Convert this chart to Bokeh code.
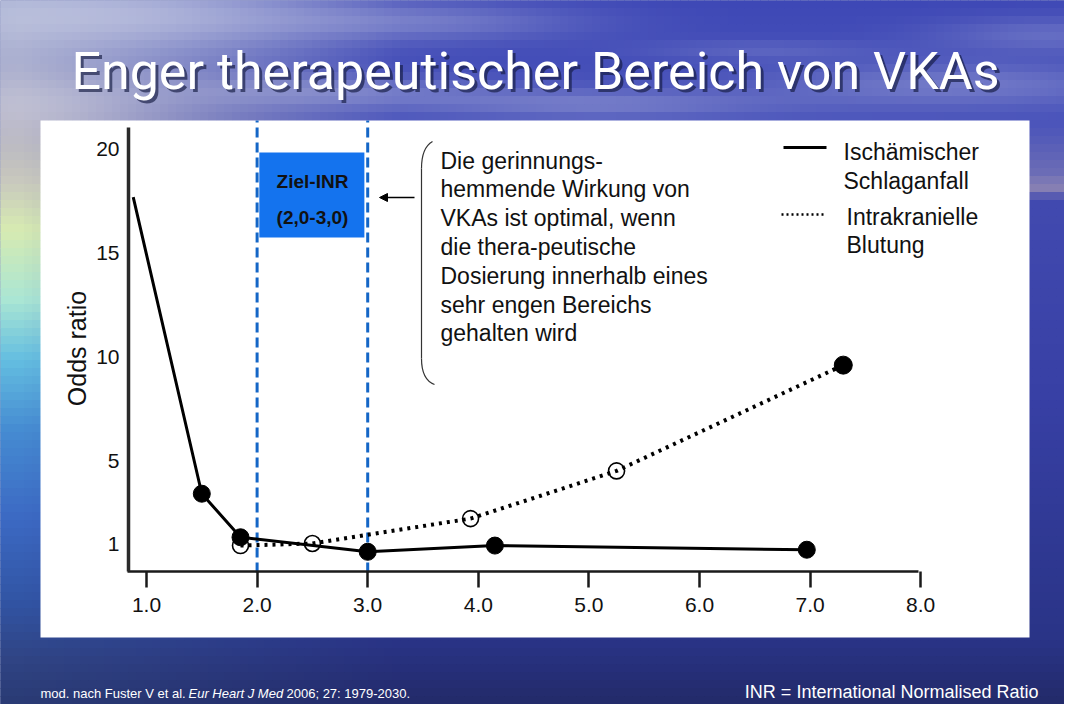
import numpy as np
from bokeh.plotting import figure
from bokeh.models import (Range1d, LinearAxis, FixedTicker, Label, Arrow, NormalHead)
from bokeh.embed import file_html
from bokeh.resources import INLINE

# ---------------- data ----------------
inr_ticks = [1.0, 2.0, 3.0, 4.0, 5.0, 6.0, 7.0, 8.0]
inr_tick_labels = ["1.0", "2.0", "3.0", "4.0", "5.0", "6.0", "7.0", "8.0"]
or_ticks = [1, 5, 10, 15, 20]
or_tick_labels = ["1", "5", "10", "15", "20"]
target_inr = [2.0, 3.0]

stroke_inr = [0.88, 1.5, 1.85, 3.0, 4.15, 6.97]
stroke_or = [17.7, 3.4, 1.3, 0.6, 0.9, 0.7]
stroke_marked = [False, True, True, True, True, True]

bleed_inr = [1.85, 2.5, 3.93, 5.25, 7.3]
bleed_or = [0.9, 1.0, 2.2, 4.5, 9.6]
bleed_filled = [False, False, False, False, True]

title_text = "Enger therapeutischer Bereich von VKAs"
box_lines = ["Ziel-INR", "(2,0-3,0)"]
note_lines = ["Die gerinnungs-", "hemmende Wirkung von", "VKAs ist optimal, wenn",
              "die thera-peutische", "Dosierung innerhalb eines", "sehr engen Bereichs",
              "gehalten wird"]
legend_stroke = ["Ischämischer", "Schlaganfall"]
legend_bleed = ["Intrakranielle", "Blutung"]

# ---------------- layout helpers (reference pixel -> data) ----------------
W, H = 1064, 704
def X(rx):
    return 1 + (rx - 146) / 110.6
def Y(ry):
    return 1 - (ry - 543) / 20.74

p = figure(width=W, height=H, x_range=Range1d(X(0), X(W)), y_range=Range1d(Y(H), Y(0)),
           output_backend="svg", toolbar_location=None, x_axis_location=None, y_axis_location=None,
           min_border=0, outline_line_color=None)
p.grid.visible = False
p.background_fill_color = "#2c3a8c"
p.border_fill_color = "#2c3a8c"

# ---------------- background (slide texture approximation) ----------------
step = 8
rxs = np.arange(0, 1080, step) + step / 2
rys = np.arange(0, 720, step) + step / 2
GX, GY = np.meshgrid(rxs, rys)
inside = (GX - step / 2 >= 40) & (GX + step / 2 <= 1029) & (GY - step / 2 >= 120) & (GY + step / 2 <= 637)
gx = GX[~inside]
gy = GY[~inside]

lp_y = [0, 60, 120, 180, 230, 300, 360, 430, 520, 600, 660, 720]
lp_c = np.array([(150, 160, 205), (165, 170, 205), (178, 176, 196), (200, 200, 190), (215, 235, 178),
                 (170, 230, 212), (100, 190, 225), (70, 140, 210), (60, 105, 195), (50, 85, 165),
                 (48, 68, 132), (40, 55, 110)], float)
rp_y = [0, 120, 175, 187, 200, 400, 640, 720]
rp_c = np.array([(62, 72, 182), (72, 82, 186), (110, 110, 182), (140, 132, 180), (66, 74, 176),
                 (56, 64, 165), (42, 52, 135), (33, 40, 98)], float)
left = np.stack([np.interp(gy, lp_y, lp_c[:, k]) for k in range(3)], axis=1)
right = np.stack([np.interp(gy, rp_y, rp_c[:, k]) for k in range(3)], axis=1)
t = np.clip((gx - 20) / 380, 0, 1)[:, None]
col = left * (1 - t) + right * t
blobs = [(120, 15, 230, 35, 0.5), (40, 105, 120, 30, 0.3), (330, 92, 170, 16, 0.3),
         (600, 104, 170, 14, 0.28), (430, 22, 160, 18, 0.25), (950, 85, 190, 22, 0.28),
         (1050, 35, 120, 18, 0.22), (760, 50, 120, 10, 0.15)]
w = np.zeros_like(gx, dtype=float)
for cx, cy, sx, sy, a in blobs:
    w = w + a * np.exp(-(((gx - cx) / sx) ** 2 + ((gy - cy) / sy) ** 2))
w = np.clip(w, 0, 0.8)[:, None]
col = col * (1 - w) + np.array([228, 230, 238]) * w
cols = ["#%02x%02x%02x" % tuple(int(v) for v in c) for c in col]
p.quad(left=[X(v - step / 2) for v in gx], right=[X(v + step / 2) for v in gx],
       top=[Y(v - step / 2) for v in gy], bottom=[Y(v + step / 2) for v in gy],
       fill_color=cols, line_color=cols, line_width=1)

# white panel
p.quad(left=[X(40)], right=[X(1029)], top=[Y(120)], bottom=[Y(637)], fill_color="white", line_color=None)

# ---------------- target range ----------------
p.quad(left=[target_inr[0] + 0.02], right=[target_inr[1] - 0.03], top=[Y(152)], bottom=[Y(237)],
       fill_color="#1473ee", line_color=None)
p.segment(x0=target_inr, y0=[Y(572)] * 2, x1=target_inr, y1=[Y(120)] * 2,
          line_color="#1466c6", line_width=3, line_dash="10 5")

# ---------------- axes ----------------
xax = LinearAxis(fixed_location=Y(571), bounds=(X(127), X(918)), ticker=FixedTicker(ticks=inr_ticks))
xax.major_label_overrides = {k: v for k, v in zip(inr_ticks, inr_tick_labels)}
xax.axis_line_width = 2.5
xax.axis_line_color = "#1a1a1a"
xax.major_tick_out = 16
xax.major_tick_in = 0
xax.major_tick_line_width = 2.5
xax.major_tick_line_color = "#1a1a1a"
xax.minor_tick_line_color = None
xax.major_label_standoff = 10
xax.major_label_text_font = "Liberation Sans"
xax.major_label_text_font_size = "21px"
xax.major_label_text_color = "#111111"
p.add_layout(xax, "below")

yax = LinearAxis(fixed_location=X(128), bounds=(Y(571), Y(127)), ticker=FixedTicker(ticks=or_ticks))
yax.major_label_overrides = {k: v for k, v in zip(or_ticks, or_tick_labels)}
yax.axis_line_width = 3.5
yax.axis_line_color = "#2a2a2a"
yax.major_tick_line_color = None
yax.minor_tick_line_color = None
yax.major_tick_out = 0
yax.major_tick_in = 0
yax.major_label_standoff = 9
yax.major_label_text_font = "Liberation Sans"
yax.major_label_text_font_size = "21px"
yax.major_label_text_color = "#111111"
p.add_layout(yax, "left")

p.add_layout(Label(x=X(76), y=Y(348), text="Odds ratio", angle=np.pi / 2, text_align="center",
                   text_baseline="middle", text_font="Liberation Sans", text_font_size="25px",
                   text_color="#111111"))

# ---------------- series ----------------
p.line(stroke_inr, stroke_or, line_color="black", line_width=3)
p.scatter([x for x, m in zip(stroke_inr, stroke_marked) if m],
          [y for y, m in zip(stroke_or, stroke_marked) if m],
          size=17, fill_color="black", line_color="black")

p.line(bleed_inr, bleed_or, line_color="black", line_width=4, line_dash="3 5")
p.scatter([x for x, f in zip(bleed_inr, bleed_filled) if not f],
          [y for y, f in zip(bleed_or, bleed_filled) if not f],
          size=16, fill_color=None, line_color="black", line_width=1.6)
p.scatter([x for x, f in zip(bleed_inr, bleed_filled) if f],
          [y for y, f in zip(bleed_or, bleed_filled) if f],
          size=18, fill_color="black", line_color="black")

# ---------------- legend ----------------
p.segment(x0=[X(783)], y0=[Y(147)], x1=[X(826)], y1=[Y(147)], line_color="black", line_width=3)
p.segment(x0=[X(781)], y0=[Y(214)], x1=[X(826)], y1=[Y(214)], line_color="black", line_width=2.5,
          line_dash="2 3")
for i, s in enumerate(legend_stroke):
    p.add_layout(Label(x=X(843), y=Y(151 + 29 * i), text=s, text_baseline="middle",
                       text_font="Liberation Sans", text_font_size="23px", text_color="#111111"))
for i, s in enumerate(legend_bleed):
    p.add_layout(Label(x=X(846), y=Y(216 + 28 * i), text=s, text_baseline="middle",
                       text_font="Liberation Sans", text_font_size="23px", text_color="#111111"))

# ---------------- annotation text ----------------
for i, s in enumerate(box_lines):
    p.add_layout(Label(x=X(312), y=Y(181 + 36 * i), text=s, text_align="center", text_baseline="middle",
                       text_font="Liberation Sans", text_font_style="bold", text_font_size="19px",
                       text_color="#111111"))
for i, s in enumerate(note_lines):
    p.add_layout(Label(x=X(440), y=Y(160 + 28.8 * i), text=s, text_baseline="middle",
                       text_font="Liberation Sans", text_font_size="23px", text_color="#111111"))

# bracket
p.bezier(x0=[X(432)], y0=[Y(141)], x1=[X(421)], y1=[Y(168)], cx0=[X(425)], cy0=[Y(145)],
         cx1=[X(421)], cy1=[Y(155)], line_color="#333333", line_width=1.2)
p.segment(x0=[X(421)], y0=[Y(168)], x1=[X(421)], y1=[Y(358)], line_color="#333333", line_width=1.2)
p.bezier(x0=[X(421)], y0=[Y(358)], x1=[X(434)], y1=[Y(384)], cx0=[X(421)], cy0=[Y(372)],
         cx1=[X(426)], cy1=[Y(381)], line_color="#333333", line_width=1.2)

p.add_layout(Arrow(end=NormalHead(size=8, fill_color="black", line_color="black"),
                   x_start=X(414), y_start=Y(197), x_end=X(379), y_end=Y(197),
                   line_color="black", line_width=1.3))

# ---------------- title ----------------
p.add_layout(Label(x=X(538), y=Y(74), text=title_text, text_align="center", text_baseline="middle",
                   text_font="Roboto", text_font_size="52px", text_color="#141a40", text_alpha=0.65))
p.add_layout(Label(x=X(535), y=Y(71), text=title_text, text_align="center", text_baseline="middle",
                   text_font="Roboto", text_font_size="52px", text_color="white"))

# ---------------- footer ----------------
foot_parts = [("mod. nach Fuster V et al.", "normal", 40), ("Eur Heart J Med", "italic", 188),
              ("2006; 27: 1979-2030.", "normal", 286)]
for s, st, rx in foot_parts:
    p.add_layout(Label(x=X(rx), y=Y(693), text=s, text_baseline="middle", text_font="Liberation Sans",
                       text_font_style=st, text_font_size="13px", text_color="white"))
p.add_layout(Label(x=X(1038), y=Y(691), text="INR = International Normalised Ratio", text_align="right",
                   text_baseline="middle", text_font="Liberation Sans", text_font_size="18px",
                   text_color="white"))

open("out.html", "w").write(file_html(p, INLINE))
